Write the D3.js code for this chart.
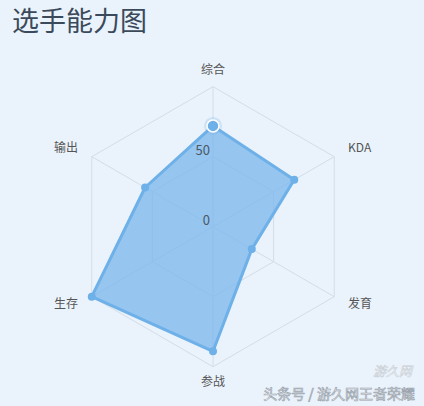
<!DOCTYPE html>
<html>
<head>
<meta charset="utf-8">
<script src="https://cdn.jsdelivr.net/npm/d3@7"></script>
<style>
  body { margin: 0; background: #eaf3fc; }
  svg { display: block; font-family: "Noto Sans CJK SC", "Noto Sans", sans-serif; }
</style>
</head>
<body>
<script>
// Data
const indicators = ["综合", "KDA", "发育", "参战", "生存", "输出"];
const values = [72, 67, 32, 89, 100, 56];
const tickValues = [0, 50];
const maxValue = 100;

const width = 424;
const height = 406;
const cx = 213;
const cy = 226.7;
const R = 140;

const svg = d3
  .select("body")
  .append("svg")
  .attr("width", width)
  .attr("height", height);

svg.append("rect")
  .attr("width", width)
  .attr("height", height)
  .attr("fill", "#eaf3fc");

// Title
svg.append("text")
  .text("选手能力图")
  .attr("x", 12)
  .attr("y", 31)
  .attr("font-size", 27)
  .attr("fill", "#3b4a5a");

const r = d3.scaleLinear().domain([0, maxValue]).range([0, R]);
const angle = (i) => (i * 2 * Math.PI) / indicators.length; // clockwise from top
const px = (i, v) => cx + r(v) * Math.sin(angle(i));
const py = (i, v) => cy - r(v) * Math.cos(angle(i));

const g = svg.append("g");

// Split rings
const rings = [50, 100];
g.selectAll("path.ring")
  .data(rings)
  .enter()
  .append("path")
  .attr("class", "ring")
  .attr("d", (lv) =>
    d3.line()(indicators.map((d, i) => [px(i, lv), py(i, lv)])) + "Z"
  )
  .attr("fill", "none")
  .attr("stroke", "#d3dde8")
  .attr("stroke-width", 1);

// Axis lines
g.selectAll("line.axis")
  .data(indicators)
  .enter()
  .append("line")
  .attr("class", "axis")
  .attr("x1", cx)
  .attr("y1", cy)
  .attr("x2", (d, i) => px(i, maxValue))
  .attr("y2", (d, i) => py(i, maxValue))
  .attr("stroke", "#d3dde8")
  .attr("stroke-width", 1);

// Axis names
g.selectAll("text.name")
  .data(indicators)
  .enter()
  .append("text")
  .attr("class", "name")
  .text((d) => d)
  .attr("x", (d, i) => cx + (R + 16) * Math.sin(angle(i)))
  .attr("y", (d, i) => cy - (R + 16) * Math.cos(angle(i)))
  .attr("dominant-baseline", "middle")
  .attr("text-anchor", (d, i) => {
    const s = Math.sin(angle(i));
    if (Math.abs(s) < 0.01) return "middle";
    return s > 0 ? "start" : "end";
  })
  .attr("font-size", 12)
  .attr("fill", "#555");

// Data area
const pts = values.map((v, i) => [px(i, v), py(i, v)]);
g.append("path")
  .attr("d", d3.line()(pts) + "Z")
  .attr("fill", "#7ab5ec")
  .attr("fill-opacity", 0.75)
  .attr("stroke", "#6eb0e8")
  .attr("stroke-width", 3)
  .attr("stroke-linejoin", "round");

// Highlight on first point
g.append("circle")
  .attr("cx", pts[0][0])
  .attr("cy", pts[0][1])
  .attr("r", 9)
  .attr("fill", "#6eb0e8")
  .attr("fill-opacity", 0.25);

g.selectAll("circle.pt")
  .data(pts)
  .enter()
  .append("circle")
  .attr("class", "pt")
  .attr("cx", (d) => d[0])
  .attr("cy", (d) => d[1])
  .attr("r", (d, i) => (i === 0 ? 6 : 4))
  .attr("fill", "#6eb0e8")
  .attr("stroke", (d, i) => (i === 0 ? "#fff" : "none"))
  .attr("stroke-width", 1.5);

// Tick labels
g.selectAll("text.tick")
  .data(tickValues)
  .enter()
  .append("text")
  .attr("class", "tick")
  .text((d) => d)
  .attr("x", cx - 3)
  .attr("y", (d) => cy - r(d) - 1.5)
  .attr("text-anchor", "end")
  .attr("font-size", 13)
  .attr("fill", "#4a5866");

// Watermark
svg.append("text")
  .text("游久网")
  .attr("x", 412)
  .attr("y", 376)
  .attr("text-anchor", "end")
  .attr("font-size", 13)
  .attr("font-style", "italic")
  .attr("fill", "#fff")
  .attr("stroke", "#c9cfd6")
  .attr("stroke-width", 0.6);

svg.append("text")
  .text("头条号 / 游久网王者荣耀")
  .attr("x", 415)
  .attr("y", 399)
  .attr("text-anchor", "end")
  .attr("font-size", 14)
  .attr("fill", "#fff")
  .attr("stroke", "#9aa3ad")
  .attr("stroke-width", 0.7);
</script>
</body>
</html>
